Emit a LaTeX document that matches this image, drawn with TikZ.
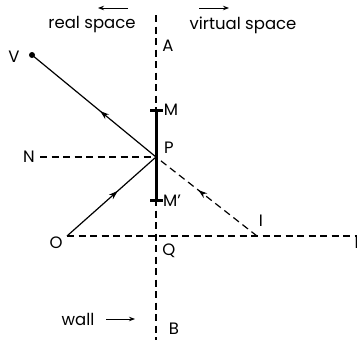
\documentclass[tikz,border=0pt]{standalone}
\usepackage{fontspec}
\setmainfont{Poppins}
\usetikzlibrary{decorations.markings,arrows.meta}
\tikzset{
  midarrow/.style={postaction={decorate},
    decoration={markings,mark=at position #1 with {\arrow{Stealth[length=9pt,width=6pt]}}}},
  ray/.style={line width=1.2pt},
  dashline/.style={line width=1.2pt,dash pattern=on 7pt off 4.5pt},
  mirror/.style={line width=3pt},
  sidearrow/.style={-{Stealth[length=6pt,width=4.5pt]},line width=0.9pt}
}
\begin{document}
\begin{tikzpicture}[>=stealth,x=1pt,y=-1pt,font=\fontsize{16.5}{18}\selectfont]
\useasboundingbox (0,0) rectangle (357,340);
% points
\coordinate (A) at (156,15);
\coordinate (B) at (156,340);
\coordinate (M) at (156,110);
\coordinate (Mp) at (156,200);
\coordinate (P) at (156,157);
\coordinate (V) at (32,55);
\coordinate (N) at (40,157);
\coordinate (O) at (67,236);
\coordinate (I) at (257,236);
\coordinate (R) at (357,236);
% wall and dashed lines
\draw[dashline](A)--(B);
\draw[dashline](N)--(P);
\draw[dashline](O)--(R);
\draw[dashline,midarrow=0.58](I)--(P);
% rays
\draw[ray,midarrow=0.57](O)--(P);
\draw[ray,midarrow=0.45](P)--(V);
\fill(V)circle(3pt);
% mirror
\draw[mirror](M)--(Mp);
\draw[mirror]([xshift=-6pt]M)--([xshift=7pt]M);
\draw[mirror]([xshift=-6pt]Mp)--([xshift=7pt]Mp);
% labels
\node(lA) at (168,46){A};
\node(lV) at (14,57){V};
\node(lM) at (171,110){M};
\node(lP) at (169,148){P};
\node(lN) at (29,157){N};
\node(lMp) at (172,201){M'};
\node(lI) at (261,221){I};
\node(lO) at (56,243){O};
\node(lQ) at (169,251){Q};
\node[anchor=west](lR) at (351,243){R};
\node(lB) at (174,329){B};
\node(real) at (92,25){real space};
\node(virt) at (243,25){virtual space};
\node(wall) at (78,319){wall};
\coordinate (r1) at (128,8);
\coordinate (r2) at (98,8);
\coordinate (v1) at (199,8);
\coordinate (v2) at (229,8);
\coordinate (w1) at (106,319);
\coordinate (w2) at (135,319);
\draw[sidearrow](r1)--(r2);
\draw[sidearrow](v1)--(v2);
\draw[sidearrow](w1)--(w2);
\end{tikzpicture}
\end{document}
